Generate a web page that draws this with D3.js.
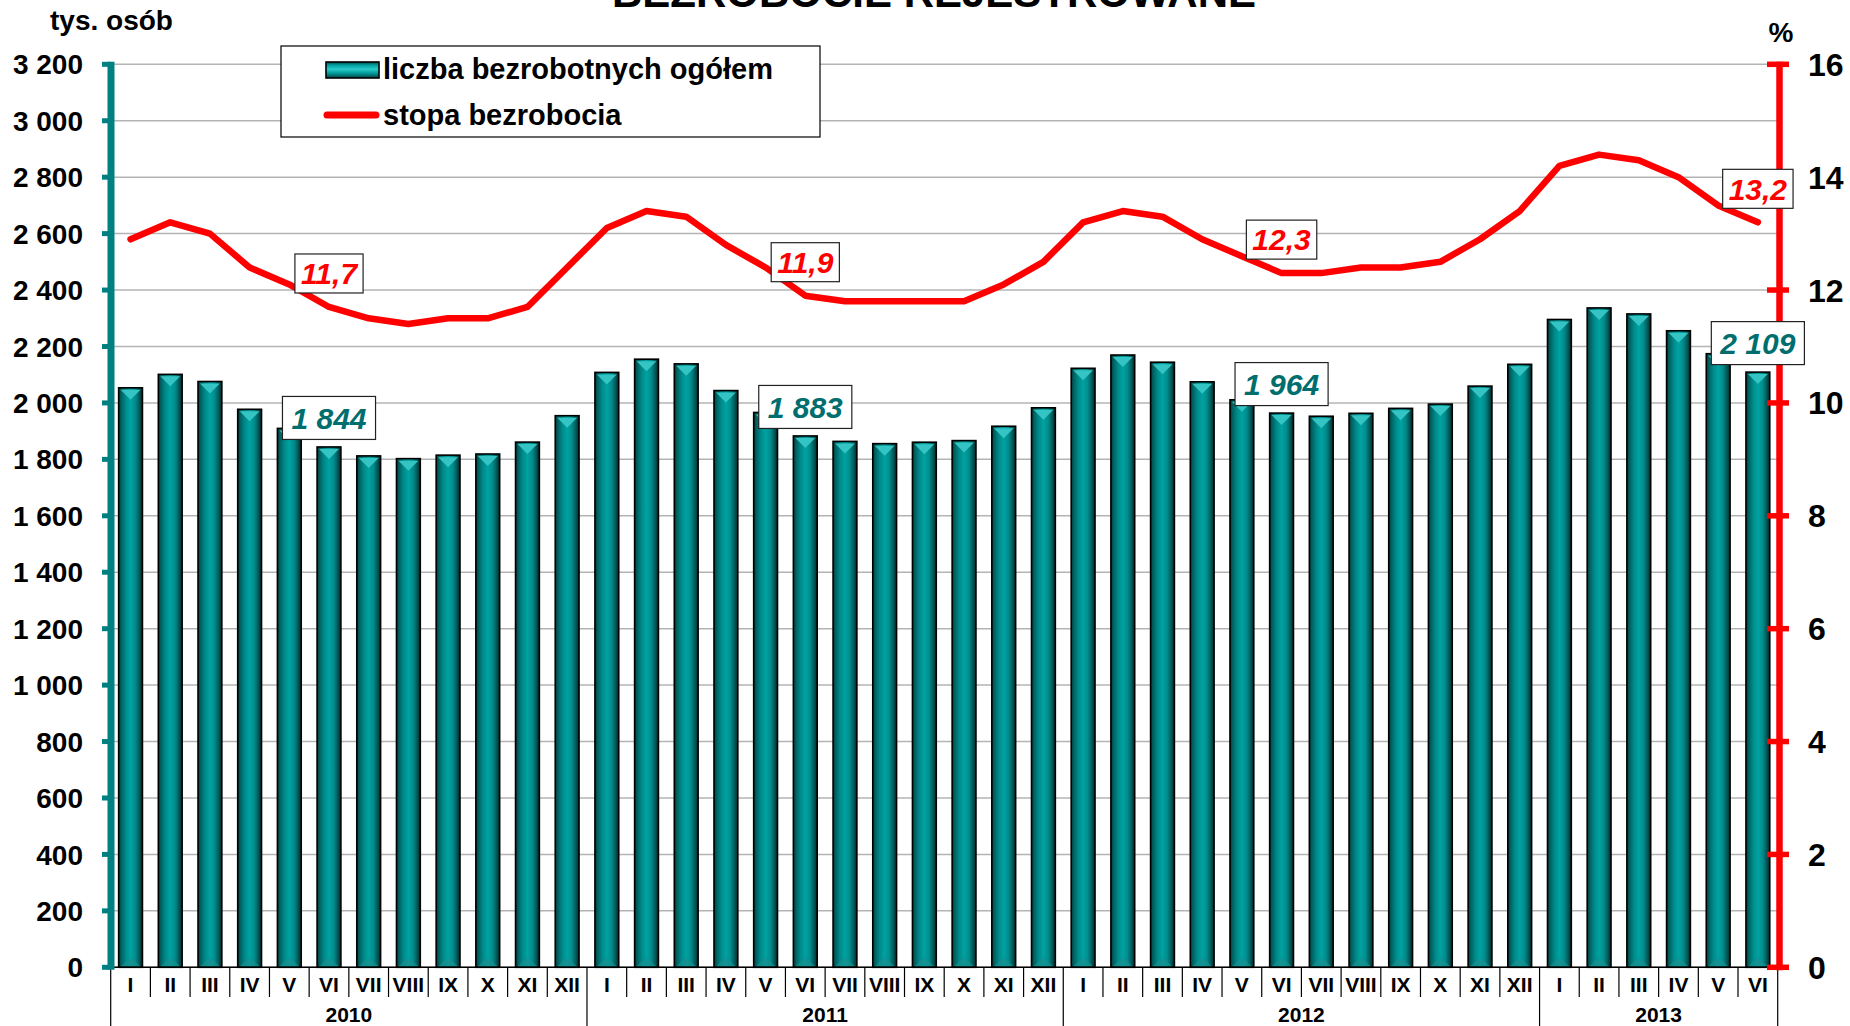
<!DOCTYPE html>
<html>
<head>
<meta charset="utf-8">
<script src="https://cdn.jsdelivr.net/npm/d3@7"></script>
<style>
  body { margin: 0; background: #fff; }
  svg { display: block; font-family: "Liberation Sans", Arial, sans-serif; font-weight: bold; }
</style>
</head>
<body>
<svg id="chart" width="1850" height="1026"></svg>
<script>
// data
var months = ["I","II","III","IV","V","VI","VII","VIII","IX","X","XI","XII",
              "I","II","III","IV","V","VI","VII","VIII","IX","X","XI","XII",
              "I","II","III","IV","V","VI","VII","VIII","IX","X","XI","XII",
              "I","II","III","IV","V","VI"];
var years = ["2010","2011","2012","2013"];
var yearLength = [12, 12, 12, 6];
// liczba bezrobotnych ogolem, tys. osob
var unemployed = [2053.6, 2101.2, 2075.9, 1977.4, 1909.8, 1844.0, 1812.3, 1802.6, 1815.0, 1819.0, 1861.2, 1954.7,
                  2108.2, 2155.0, 2138.4, 2043.8, 1966.2, 1883.0, 1863.7, 1855.7, 1860.8, 1866.5, 1917.4, 1982.7,
                  2122.7, 2169.8, 2144.3, 2074.8, 2011.1, 1964.0, 1952.8, 1963.2, 1980.7, 1995.9, 2059.6, 2136.8,
                  2295.7, 2336.7, 2315.4, 2255.7, 2174.4, 2109.2];
// stopa bezrobocia, %
var rate = [12.9, 13.2, 13.0, 12.4, 12.1, 11.7, 11.5, 11.4, 11.5, 11.5, 11.7, 12.4,
            13.1, 13.4, 13.3, 12.8, 12.4, 11.9, 11.8, 11.8, 11.8, 11.8, 12.1, 12.5,
            13.2, 13.4, 13.3, 12.9, 12.6, 12.3, 12.3, 12.4, 12.4, 12.5, 12.9, 13.4,
            14.2, 14.4, 14.3, 14.0, 13.5, 13.2];
var leftTicks = [0, 200, 400, 600, 800, 1000, 1200, 1400, 1600, 1800, 2000, 2200, 2400, 2600, 2800, 3000, 3200];
var rightTicks = [0, 2, 4, 6, 8, 10, 12, 14, 16];
var labelIdx = [5, 17, 29, 41];   // czerwiec kazdego roku

var TealAxis = "#008080", RedColor = "#ff0000", GridColor = "#b4b4b4", LabelTeal = "#006e6e";

var pl = d3.formatLocale({decimal: ",", thousands: " ", grouping: [3], currency: ["", ""]});
var fmtInt = pl.format(",.0f"), fmtRate = pl.format(".1f");

// plot area (window.top is read-only, so no "top" here)
var plotL = 110.7, plotR = 1777.7, plotB = 967.3, plotT = 64.3;

var svg = d3.select("#chart");

var x = d3.scaleBand().domain(d3.range(months.length)).range([plotL, plotR]).paddingInner(0.4).paddingOuter(0.2);
var y = d3.scaleLinear().domain([0, 3200]).range([plotB, plotT]);
var y2 = d3.scaleLinear().domain([0, 16]).range([plotB, plotT]);
var step = x.step();

// gradients
var defs = svg.append("defs");
var g1 = defs.append("linearGradient").attr("id", "barGrad").attr("x1", "0").attr("x2", "1").attr("y1", "0").attr("y2", "0");
[[0, "#0b3434"], [0.1, "#005f5f"], [0.3, "#008a8a"], [0.5, "#00a2a2"], [0.7, "#008c8c"], [0.88, "#005555"], [1, "#012828"]]
  .forEach(function(s) { g1.append("stop").attr("offset", s[0]).attr("stop-color", s[1]); });
var g2 = defs.append("linearGradient").attr("id", "legGrad").attr("x1", "0").attr("x2", "0").attr("y1", "0").attr("y2", "1");
[[0, "#0a4a4a"], [0.2, "#00a0a0"], [0.45, "#2ccaca"], [0.7, "#009a9a"], [1, "#004040"]]
  .forEach(function(s) { g2.append("stop").attr("offset", s[0]).attr("stop-color", s[1]); });

// title (cut off at the top, as in the original)
svg.append("text").attr("x", 934).attr("y", 7).attr("text-anchor", "middle")
  .style("font-size", "42px").text("BEZROBOCIE REJESTROWANE");

// gridlines
svg.selectAll(".grid").data(leftTicks).enter().append("line")
  .attr("x1", plotL).attr("x2", plotR)
  .attr("y1", function(d) { return y(d); }).attr("y2", function(d) { return y(d); })
  .attr("stroke", GridColor).attr("stroke-width", 1.5);

// bars
var bars = svg.selectAll(".bar").data(unemployed).enter().append("g");
bars.append("rect")
  .attr("x", function(d, i) { return x(i); })
  .attr("y", function(d) { return y(d); })
  .attr("width", x.bandwidth())
  .attr("height", function(d) { return plotB - y(d); })
  .attr("fill", "url(#barGrad)")
  .attr("stroke", "#000").attr("stroke-width", 1.6);
bars.append("polygon")
  .attr("points", function(d, i) {
    var a = x(i) + 2, b = x(i) + x.bandwidth() - 2, t = y(d) + 2;
    return a + "," + t + " " + b + "," + t + " " + (a + b) / 2 + "," + (t + 10);
  })
  .attr("fill", "#34c4c4");
bars.append("polygon")
  .attr("points", function(d, i) {
    var a = x(i) + 2, b = x(i) + x.bandwidth() - 2, t = plotB - 1;
    return a + "," + t + " " + b + "," + t + " " + (a + b) / 2 + "," + (t - 9);
  })
  .attr("fill", "#1a8f8f").attr("opacity", 0.7);

// line
var line = d3.line()
  .x(function(d, i) { return x(i) + x.bandwidth() / 2; })
  .y(function(d) { return y2(d); });
svg.append("path").datum(rate)
  .attr("d", line).attr("fill", "none")
  .attr("stroke", RedColor).attr("stroke-width", 6.5)
  .attr("stroke-linejoin", "round").attr("stroke-linecap", "round");

// x axis
svg.append("line").attr("x1", plotL).attr("x2", plotR).attr("y1", plotB).attr("y2", plotB)
  .attr("stroke", "#000").attr("stroke-width", 1.5);
var yearStart = [];
var acc = 0;
yearLength.forEach(function(n) { yearStart.push(acc); acc += n; });
svg.selectAll(".msep").data(d3.range(months.length + 1)).enter().append("line")
  .attr("x1", function(i) { return plotL + i * step; }).attr("x2", function(i) { return plotL + i * step; })
  .attr("y1", plotB)
  .attr("y2", function(i) { return (yearStart.indexOf(i) >= 0 || i == months.length) ? 1026 : 997; })
  .attr("stroke", "#000").attr("stroke-width", 1.2);
svg.selectAll(".mlab").data(months).enter().append("text")
  .attr("x", function(d, i) { return x(i) + x.bandwidth() / 2; })
  .attr("y", 992).attr("text-anchor", "middle").style("font-size", "21px")
  .text(function(d) { return d; });
svg.selectAll(".ylab").data(years).enter().append("text")
  .attr("x", function(d, i) { return plotL + (yearStart[i] + yearLength[i] / 2) * step; })
  .attr("y", 1022).attr("text-anchor", "middle").style("font-size", "21px")
  .text(function(d) { return d; });

// left axis
svg.append("line").attr("x1", 111).attr("x2", 111).attr("y1", plotT - 2.5).attr("y2", plotB + 2.5)
  .attr("stroke", TealAxis).attr("stroke-width", 7);
svg.selectAll(".ltick").data(leftTicks).enter().append("line")
  .attr("x1", 102).attr("x2", 111)
  .attr("y1", function(d) { return y(d); }).attr("y2", function(d) { return y(d); })
  .attr("stroke", TealAxis).attr("stroke-width", 5);
svg.selectAll(".llab").data(leftTicks).enter().append("text")
  .attr("x", 83).attr("y", function(d) { return y(d); }).attr("dy", "0.36em")
  .attr("text-anchor", "end").style("font-size", "28px")
  .text(function(d) { return fmtInt(d); });
svg.append("text").attr("x", 50).attr("y", 30).style("font-size", "28px").text("tys. osób");

// right axis
svg.append("line").attr("x1", 1779.5).attr("x2", 1779.5).attr("y1", plotT - 2.5).attr("y2", plotB + 3)
  .attr("stroke", RedColor).attr("stroke-width", 6.5);
svg.selectAll(".rtick").data(rightTicks).enter().append("line")
  .attr("x1", 1767).attr("x2", 1789)
  .attr("y1", function(d) { return y2(d); }).attr("y2", function(d) { return y2(d); })
  .attr("stroke", RedColor).attr("stroke-width", 5.5);
svg.selectAll(".rlab").data(rightTicks).enter().append("text")
  .attr("x", 1808).attr("y", function(d) { return y2(d); }).attr("dy", "0.36em")
  .style("font-size", "32px")
  .text(function(d) { return d; });
svg.append("text").attr("x", 1781).attr("y", 42).attr("text-anchor", "middle").style("font-size", "28px").text("%");

// data labels
function labelBox(cx, cy, str, color, h, pad) {
  var g = svg.append("g");
  var r = g.append("rect");
  var t = g.append("text").attr("x", cx).attr("y", cy).attr("dy", "0.36em")
    .attr("text-anchor", "middle").style("font-size", "30px").style("font-style", "italic")
    .attr("fill", color).text(str);
  var w = t.node().getComputedTextLength() + pad * 2;
  r.attr("x", cx - w / 2).attr("y", cy - h / 2).attr("width", w).attr("height", h)
    .attr("fill", "#fff").attr("stroke", "#222").attr("stroke-width", 1.2);
}
labelIdx.forEach(function(i) {
  var cx = x(i) + x.bandwidth() / 2;
  labelBox(cx, y(unemployed[i]) - 29, fmtInt(unemployed[i]), LabelTeal, 43, 9);
  labelBox(cx, y2(rate[i]) - 33.5, fmtRate(rate[i]), RedColor, 39, 6);
});

// legend
svg.append("rect").attr("x", 281).attr("y", 46).attr("width", 539).attr("height", 91)
  .attr("fill", "#fff").attr("stroke", "#000").attr("stroke-width", 1.2);
svg.append("rect").attr("x", 326).attr("y", 62).attr("width", 53).attr("height", 16)
  .attr("fill", "url(#legGrad)").attr("stroke", "#000").attr("stroke-width", 1.6);
svg.append("text").attr("x", 383).attr("y", 79).style("font-size", "29px").text("liczba bezrobotnych ogółem");
svg.append("line").attr("x1", 327).attr("x2", 376).attr("y1", 115).attr("y2", 115)
  .attr("stroke", RedColor).attr("stroke-width", 7).attr("stroke-linecap", "round");
svg.append("text").attr("x", 383).attr("y", 125).style("font-size", "29px").text("stopa bezrobocia");
</script>
</body>
</html>
